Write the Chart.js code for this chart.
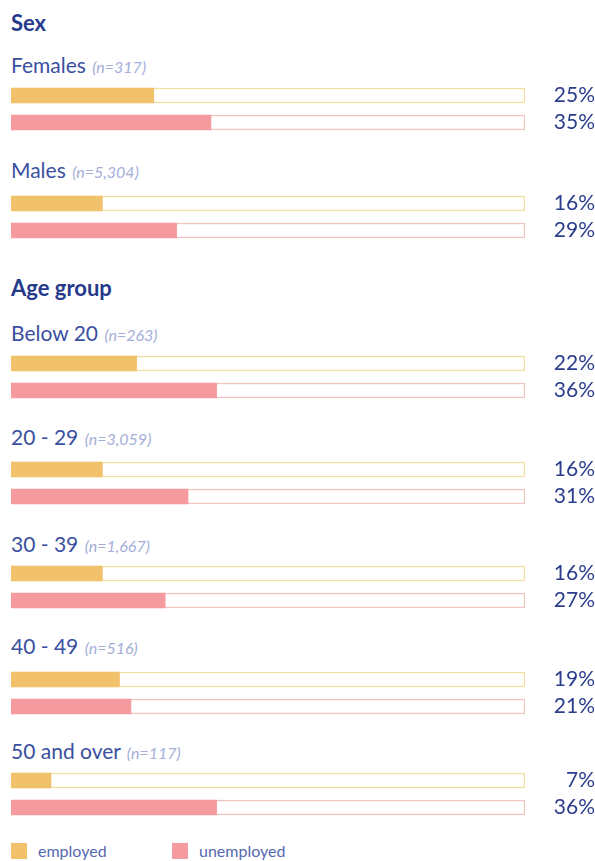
<!DOCTYPE html>
<html>
<head>
<meta charset="utf-8">
<script src="https://cdn.jsdelivr.net/npm/chart.js@4.4.1/dist/chart.umd.min.js"></script>
<style>
  body { margin: 0; background: #fff; font-family: Lato, "Open Sans", sans-serif; }
  #page { position: relative; width: 595px; height: 861px; overflow: hidden; }
  .head { position: absolute; left: 11px; font-size: 22px; font-weight: 700; color: #263a8c; line-height: 22px; white-space: nowrap; }
  .lbl { position: absolute; left: 11px; font-size: 21px; color: #3a4f9f; line-height: 22px; white-space: nowrap; font-weight: 400; }
  .lbl i { font-size: 16px; color: #a4aed8; margin-left: 1px; font-weight: 400; }
  canvas { position: absolute; left: 0; }
  .leg { position: absolute; top: 843px; font-size: 16px; color: #5568b0; line-height: 16px; display: flex; align-items: center; }
  .leg span.sw { width: 16px; height: 16px; display: inline-block; margin-right: 11px; }
</style>
</head>
<body>
<div id="page"></div>
<script>
// Datos
const categories = ['employed', 'unemployed'];
const groupLabels = ['Females', 'Males', 'Below 20', '20 - 29', '30 - 39', '40 - 49', '50 and over'];
const groupN = ['n=317', 'n=5,304', 'n=263', 'n=3,059', 'n=1,667', 'n=516', 'n=117'];
const employed = [25, 16, 22, 16, 16, 19, 7];
const unemployed = [35, 29, 36, 31, 27, 21, 36];
const sections = [{ title: 'Sex', first: 0 }, { title: 'Age group', first: 2 }];
const SCALE_MAX = 90;

// Layout (px)
const chartTops = [81.5, 189.5, 349.5, 455.5, 559.5, 665.5, 767];
const labelBase = [73, 178, 341, 445, 552, 654, 759];
const headBase = [31, 296];

const colors = { employed: '#f2c16b', unemployed: '#f59a9e', trackEmp: '#f3df9f', trackUnemp: '#eec3c0' };

// etiquetas de porcentaje a la derecha
const pctLabels = {
    id: 'pctLabels',
    afterDatasetsDraw(chart) {
        const ctx = chart.ctx, y = chart.scales.y;
        ctx.save();
        ctx.font = '400 21px Lato'; ctx.fillStyle = '#2b3d8d';
        ctx.textAlign = 'right'; ctx.textBaseline = 'middle';
        chart.data.datasets[0].data.forEach((v, i) => {
            ctx.fillText(v + '%', chart.width, y.getPixelForValue(i));
        });
        ctx.restore();
    }
};

const page = document.getElementById('page');

sections.forEach((s, i) => {
    const d = document.createElement('div');
    d.className = 'head'; d.textContent = s.title;
    d.style.top = (headBase[i] - 19) + 'px';
    page.appendChild(d);
});

groupLabels.forEach((name, g) => {
    const l = document.createElement('div');
    l.className = 'lbl';
    l.innerHTML = name + ' <i>(' + groupN[g] + ')</i>';
    l.style.top = (labelBase[g] - 19) + 'px';
    page.appendChild(l);

    const c = document.createElement('canvas');
    c.width = 595; c.height = 54;
    c.style.top = chartTops[g] + 'px';
    page.appendChild(c);

    new Chart(c, {
        type: 'bar',
        data: {
            labels: categories,
            datasets: [
                { data: [employed[g], unemployed[g]], backgroundColor: [colors.employed, colors.unemployed], borderWidth: 0, barThickness: 15, grouped: false, order: 1 },
                { data: [SCALE_MAX, SCALE_MAX], backgroundColor: '#ffffff', borderColor: [colors.trackEmp, colors.trackUnemp], borderWidth: 1.5, borderSkipped: false, barThickness: 15, grouped: false, order: 2 }
            ]
        },
        options: {
            indexAxis: 'y', responsive: false, animation: false, devicePixelRatio: 1,
            layout: { padding: { left: 11, right: 70, top: 0, bottom: 0 } },
            plugins: { legend: { display: false }, tooltip: { enabled: false } },
            scales: {
                x: { display: false, min: 0, max: SCALE_MAX },
                y: { display: false }
            }
        },
        plugins: [pctLabels]
    });
});

// Leyenda
[['employed', colors.employed, 11], ['unemployed', colors.unemployed, 172]].forEach(([t, col, x]) => {
    const d = document.createElement('div');
    d.className = 'leg'; d.style.left = x + 'px';
    d.innerHTML = '<span class="sw" style="background:' + col + '"></span>' + t;
    page.appendChild(d);
});
</script>
</body>
</html>
